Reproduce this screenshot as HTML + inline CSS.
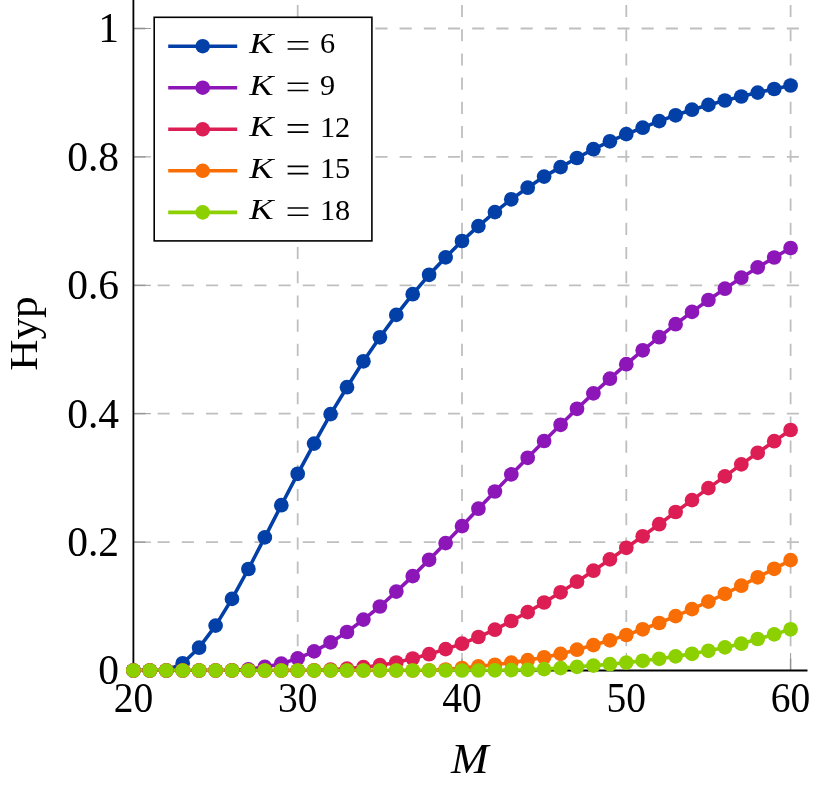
<!DOCTYPE html>
<html><head><meta charset="utf-8"><title>Hyp vs M</title>
<style>
html,body{margin:0;padding:0;background:#fff;}
body{width:829px;height:791px;overflow:hidden;}
svg{display:block;will-change:transform;}
text{font-family:"Liberation Serif",serif;fill:#000;}
.t{font-size:41.5px;}
.l{font-size:29px;}
.i{font-style:italic;}
</style></head><body>
<svg width="829" height="791" viewBox="0 0 829 791">
<rect width="829" height="791" fill="#fff"/>

<g stroke="#bfbfbf" stroke-width="1.8" stroke-dasharray="12.1 12.1" fill="none">
<path d="M297.70 670.50V-10"/>
<path d="M462.00 670.50V-10"/>
<path d="M626.30 670.50V-10"/>
<path d="M790.60 670.50V-10"/>
<path d="M133.40 542.10H807.50"/>
<path d="M133.40 413.70H807.50"/>
<path d="M133.40 285.30H807.50"/>
<path d="M133.40 156.90H807.50"/>
<path d="M133.40 28.50H807.50"/>
</g>
<g stroke="#808080" stroke-width="0.8" fill="none">
<path d="M133.40 670.50v-17.5"/>
<path d="M297.70 670.50v-17.5"/>
<path d="M462.00 670.50v-17.5"/>
<path d="M626.30 670.50v-17.5"/>
<path d="M790.60 670.50v-17.5"/>
<path d="M133.40 670.50h17.5"/>
<path d="M133.40 542.10h17.5"/>
<path d="M133.40 413.70h17.5"/>
<path d="M133.40 285.30h17.5"/>
<path d="M133.40 156.90h17.5"/>
<path d="M133.40 28.50h17.5"/>
</g>
<g stroke="#000" stroke-width="1.8" fill="none"><path d="M133.40 -10V671.40"/><path d="M132.50 670.50H807.50"/></g>
<defs><clipPath id="c"><rect x="0" y="-20" width="829" height="691.40"/></clipPath></defs>
<g clip-path="url(#c)" fill="none" stroke-width="3.6" stroke-linejoin="round">
<polyline stroke="#0240A8" points="133.4,670.5 149.8,670.5 166.3,670.5 182.7,663.3 199.1,647.7 215.6,625.6 232.0,598.9 248.4,569.0 264.8,537.4 281.3,505.2 297.7,473.8 314.1,443.6 330.6,414.1 347.0,387.2 363.4,361.3 379.9,337.3 396.3,314.9 412.7,294.2 429.1,274.8 445.6,257.4 462.0,241.0 478.4,226.1 494.9,212.1 511.3,199.3 527.7,187.7 544.1,176.6 560.6,167.1 577.0,158.0 593.4,149.2 609.9,141.3 626.3,134.1 642.7,127.7 659.2,121.1 675.6,115.3 692.0,109.7 708.4,104.9 724.9,100.5 741.3,96.5 757.7,92.6 774.2,89.0 790.6,85.5"/>
<polyline stroke="#8C16B8" points="133.4,670.5 149.8,670.5 166.3,670.5 182.7,670.5 199.1,670.5 215.6,670.5 232.0,670.3 248.4,669.4 264.8,666.9 281.3,663.7 297.7,658.4 314.1,651.4 330.6,642.4 347.0,632.0 363.4,619.6 379.9,606.5 396.3,591.6 412.7,576.1 429.1,559.8 445.6,543.1 462.0,526.1 478.4,508.7 494.9,491.5 511.3,474.4 527.7,457.8 544.1,441.0 560.6,424.8 577.0,408.8 593.4,393.4 609.9,378.7 626.3,364.2 642.7,350.3 659.2,337.2 675.6,324.2 692.0,311.9 708.4,300.0 724.9,288.7 741.3,277.7 757.7,267.4 774.2,257.5 790.6,248.0"/>
<polyline stroke="#DC1E55" points="133.4,670.5 149.8,670.5 166.3,670.5 182.7,670.5 199.1,670.5 215.6,670.5 232.0,670.5 248.4,670.5 264.8,670.5 281.3,670.5 297.7,670.5 314.1,670.3 330.6,669.7 347.0,668.6 363.4,667.2 379.9,665.2 396.3,662.5 412.7,658.5 429.1,654.2 445.6,649.1 462.0,643.7 478.4,637.0 494.9,629.7 511.3,621.0 527.7,612.1 544.1,602.5 560.6,592.3 577.0,581.7 593.4,570.7 609.9,559.4 626.3,547.8 642.7,536.3 659.2,524.2 675.6,512.0 692.0,500.1 708.4,488.1 724.9,476.4 741.3,464.4 757.7,452.8 774.2,441.2 790.6,430.0"/>
<polyline stroke="#F96E04" points="133.4,670.5 149.8,670.5 166.3,670.5 182.7,670.5 199.1,670.5 215.6,670.5 232.0,670.5 248.4,670.5 264.8,670.5 281.3,670.5 297.7,670.5 314.1,670.5 330.6,670.5 347.0,670.5 363.4,670.5 379.9,670.5 396.3,670.5 412.7,670.5 429.1,670.3 445.6,669.5 462.0,668.0 478.4,666.4 494.9,664.8 511.3,662.6 527.7,660.2 544.1,657.3 560.6,653.9 577.0,649.7 593.4,645.1 609.9,640.4 626.3,635.0 642.7,629.3 659.2,623.0 675.6,616.1 692.0,609.1 708.4,601.6 724.9,593.8 741.3,585.7 757.7,577.3 774.2,568.8 790.6,560.1"/>
<polyline stroke="#8CD000" points="133.4,670.5 149.8,670.5 166.3,670.5 182.7,670.5 199.1,670.5 215.6,670.5 232.0,670.5 248.4,670.5 264.8,670.5 281.3,670.5 297.7,670.5 314.1,670.5 330.6,670.5 347.0,670.5 363.4,670.5 379.9,670.5 396.3,670.5 412.7,670.5 429.1,670.5 445.6,670.5 462.0,670.5 478.4,670.5 494.9,670.3 511.3,670.1 527.7,669.8 544.1,669.1 560.6,668.1 577.0,666.9 593.4,665.6 609.9,664.2 626.3,662.6 642.7,660.8 659.2,658.8 675.6,656.4 692.0,653.8 708.4,650.8 724.9,647.4 741.3,643.7 757.7,639.0 774.2,634.4 790.6,629.3"/>
</g>
<g fill="#0240A8" stroke="none">
<circle cx="133.4" cy="670.5" r="7.35"/>
<circle cx="149.8" cy="670.5" r="7.35"/>
<circle cx="166.3" cy="670.5" r="7.35"/>
<circle cx="182.7" cy="663.3" r="7.35"/>
<circle cx="199.1" cy="647.7" r="7.35"/>
<circle cx="215.6" cy="625.6" r="7.35"/>
<circle cx="232.0" cy="598.9" r="7.35"/>
<circle cx="248.4" cy="569.0" r="7.35"/>
<circle cx="264.8" cy="537.4" r="7.35"/>
<circle cx="281.3" cy="505.2" r="7.35"/>
<circle cx="297.7" cy="473.8" r="7.35"/>
<circle cx="314.1" cy="443.6" r="7.35"/>
<circle cx="330.6" cy="414.1" r="7.35"/>
<circle cx="347.0" cy="387.2" r="7.35"/>
<circle cx="363.4" cy="361.3" r="7.35"/>
<circle cx="379.9" cy="337.3" r="7.35"/>
<circle cx="396.3" cy="314.9" r="7.35"/>
<circle cx="412.7" cy="294.2" r="7.35"/>
<circle cx="429.1" cy="274.8" r="7.35"/>
<circle cx="445.6" cy="257.4" r="7.35"/>
<circle cx="462.0" cy="241.0" r="7.35"/>
<circle cx="478.4" cy="226.1" r="7.35"/>
<circle cx="494.9" cy="212.1" r="7.35"/>
<circle cx="511.3" cy="199.3" r="7.35"/>
<circle cx="527.7" cy="187.7" r="7.35"/>
<circle cx="544.1" cy="176.6" r="7.35"/>
<circle cx="560.6" cy="167.1" r="7.35"/>
<circle cx="577.0" cy="158.0" r="7.35"/>
<circle cx="593.4" cy="149.2" r="7.35"/>
<circle cx="609.9" cy="141.3" r="7.35"/>
<circle cx="626.3" cy="134.1" r="7.35"/>
<circle cx="642.7" cy="127.7" r="7.35"/>
<circle cx="659.2" cy="121.1" r="7.35"/>
<circle cx="675.6" cy="115.3" r="7.35"/>
<circle cx="692.0" cy="109.7" r="7.35"/>
<circle cx="708.4" cy="104.9" r="7.35"/>
<circle cx="724.9" cy="100.5" r="7.35"/>
<circle cx="741.3" cy="96.5" r="7.35"/>
<circle cx="757.7" cy="92.6" r="7.35"/>
<circle cx="774.2" cy="89.0" r="7.35"/>
<circle cx="790.6" cy="85.5" r="7.35"/>
</g>
<g fill="#8C16B8" stroke="none">
<circle cx="133.4" cy="670.5" r="7.35"/>
<circle cx="149.8" cy="670.5" r="7.35"/>
<circle cx="166.3" cy="670.5" r="7.35"/>
<circle cx="182.7" cy="670.5" r="7.35"/>
<circle cx="199.1" cy="670.5" r="7.35"/>
<circle cx="215.6" cy="670.5" r="7.35"/>
<circle cx="232.0" cy="670.3" r="7.35"/>
<circle cx="248.4" cy="669.4" r="7.35"/>
<circle cx="264.8" cy="666.9" r="7.35"/>
<circle cx="281.3" cy="663.7" r="7.35"/>
<circle cx="297.7" cy="658.4" r="7.35"/>
<circle cx="314.1" cy="651.4" r="7.35"/>
<circle cx="330.6" cy="642.4" r="7.35"/>
<circle cx="347.0" cy="632.0" r="7.35"/>
<circle cx="363.4" cy="619.6" r="7.35"/>
<circle cx="379.9" cy="606.5" r="7.35"/>
<circle cx="396.3" cy="591.6" r="7.35"/>
<circle cx="412.7" cy="576.1" r="7.35"/>
<circle cx="429.1" cy="559.8" r="7.35"/>
<circle cx="445.6" cy="543.1" r="7.35"/>
<circle cx="462.0" cy="526.1" r="7.35"/>
<circle cx="478.4" cy="508.7" r="7.35"/>
<circle cx="494.9" cy="491.5" r="7.35"/>
<circle cx="511.3" cy="474.4" r="7.35"/>
<circle cx="527.7" cy="457.8" r="7.35"/>
<circle cx="544.1" cy="441.0" r="7.35"/>
<circle cx="560.6" cy="424.8" r="7.35"/>
<circle cx="577.0" cy="408.8" r="7.35"/>
<circle cx="593.4" cy="393.4" r="7.35"/>
<circle cx="609.9" cy="378.7" r="7.35"/>
<circle cx="626.3" cy="364.2" r="7.35"/>
<circle cx="642.7" cy="350.3" r="7.35"/>
<circle cx="659.2" cy="337.2" r="7.35"/>
<circle cx="675.6" cy="324.2" r="7.35"/>
<circle cx="692.0" cy="311.9" r="7.35"/>
<circle cx="708.4" cy="300.0" r="7.35"/>
<circle cx="724.9" cy="288.7" r="7.35"/>
<circle cx="741.3" cy="277.7" r="7.35"/>
<circle cx="757.7" cy="267.4" r="7.35"/>
<circle cx="774.2" cy="257.5" r="7.35"/>
<circle cx="790.6" cy="248.0" r="7.35"/>
</g>
<g fill="#DC1E55" stroke="none">
<circle cx="133.4" cy="670.5" r="7.35"/>
<circle cx="149.8" cy="670.5" r="7.35"/>
<circle cx="166.3" cy="670.5" r="7.35"/>
<circle cx="182.7" cy="670.5" r="7.35"/>
<circle cx="199.1" cy="670.5" r="7.35"/>
<circle cx="215.6" cy="670.5" r="7.35"/>
<circle cx="232.0" cy="670.5" r="7.35"/>
<circle cx="248.4" cy="670.5" r="7.35"/>
<circle cx="264.8" cy="670.5" r="7.35"/>
<circle cx="281.3" cy="670.5" r="7.35"/>
<circle cx="297.7" cy="670.5" r="7.35"/>
<circle cx="314.1" cy="670.3" r="7.35"/>
<circle cx="330.6" cy="669.7" r="7.35"/>
<circle cx="347.0" cy="668.6" r="7.35"/>
<circle cx="363.4" cy="667.2" r="7.35"/>
<circle cx="379.9" cy="665.2" r="7.35"/>
<circle cx="396.3" cy="662.5" r="7.35"/>
<circle cx="412.7" cy="658.5" r="7.35"/>
<circle cx="429.1" cy="654.2" r="7.35"/>
<circle cx="445.6" cy="649.1" r="7.35"/>
<circle cx="462.0" cy="643.7" r="7.35"/>
<circle cx="478.4" cy="637.0" r="7.35"/>
<circle cx="494.9" cy="629.7" r="7.35"/>
<circle cx="511.3" cy="621.0" r="7.35"/>
<circle cx="527.7" cy="612.1" r="7.35"/>
<circle cx="544.1" cy="602.5" r="7.35"/>
<circle cx="560.6" cy="592.3" r="7.35"/>
<circle cx="577.0" cy="581.7" r="7.35"/>
<circle cx="593.4" cy="570.7" r="7.35"/>
<circle cx="609.9" cy="559.4" r="7.35"/>
<circle cx="626.3" cy="547.8" r="7.35"/>
<circle cx="642.7" cy="536.3" r="7.35"/>
<circle cx="659.2" cy="524.2" r="7.35"/>
<circle cx="675.6" cy="512.0" r="7.35"/>
<circle cx="692.0" cy="500.1" r="7.35"/>
<circle cx="708.4" cy="488.1" r="7.35"/>
<circle cx="724.9" cy="476.4" r="7.35"/>
<circle cx="741.3" cy="464.4" r="7.35"/>
<circle cx="757.7" cy="452.8" r="7.35"/>
<circle cx="774.2" cy="441.2" r="7.35"/>
<circle cx="790.6" cy="430.0" r="7.35"/>
</g>
<g fill="#F96E04" stroke="none">
<circle cx="133.4" cy="670.5" r="7.35"/>
<circle cx="149.8" cy="670.5" r="7.35"/>
<circle cx="166.3" cy="670.5" r="7.35"/>
<circle cx="182.7" cy="670.5" r="7.35"/>
<circle cx="199.1" cy="670.5" r="7.35"/>
<circle cx="215.6" cy="670.5" r="7.35"/>
<circle cx="232.0" cy="670.5" r="7.35"/>
<circle cx="248.4" cy="670.5" r="7.35"/>
<circle cx="264.8" cy="670.5" r="7.35"/>
<circle cx="281.3" cy="670.5" r="7.35"/>
<circle cx="297.7" cy="670.5" r="7.35"/>
<circle cx="314.1" cy="670.5" r="7.35"/>
<circle cx="330.6" cy="670.5" r="7.35"/>
<circle cx="347.0" cy="670.5" r="7.35"/>
<circle cx="363.4" cy="670.5" r="7.35"/>
<circle cx="379.9" cy="670.5" r="7.35"/>
<circle cx="396.3" cy="670.5" r="7.35"/>
<circle cx="412.7" cy="670.5" r="7.35"/>
<circle cx="429.1" cy="670.3" r="7.35"/>
<circle cx="445.6" cy="669.5" r="7.35"/>
<circle cx="462.0" cy="668.0" r="7.35"/>
<circle cx="478.4" cy="666.4" r="7.35"/>
<circle cx="494.9" cy="664.8" r="7.35"/>
<circle cx="511.3" cy="662.6" r="7.35"/>
<circle cx="527.7" cy="660.2" r="7.35"/>
<circle cx="544.1" cy="657.3" r="7.35"/>
<circle cx="560.6" cy="653.9" r="7.35"/>
<circle cx="577.0" cy="649.7" r="7.35"/>
<circle cx="593.4" cy="645.1" r="7.35"/>
<circle cx="609.9" cy="640.4" r="7.35"/>
<circle cx="626.3" cy="635.0" r="7.35"/>
<circle cx="642.7" cy="629.3" r="7.35"/>
<circle cx="659.2" cy="623.0" r="7.35"/>
<circle cx="675.6" cy="616.1" r="7.35"/>
<circle cx="692.0" cy="609.1" r="7.35"/>
<circle cx="708.4" cy="601.6" r="7.35"/>
<circle cx="724.9" cy="593.8" r="7.35"/>
<circle cx="741.3" cy="585.7" r="7.35"/>
<circle cx="757.7" cy="577.3" r="7.35"/>
<circle cx="774.2" cy="568.8" r="7.35"/>
<circle cx="790.6" cy="560.1" r="7.35"/>
</g>
<g fill="#8CD000" stroke="none">
<circle cx="133.4" cy="670.5" r="7.35"/>
<circle cx="149.8" cy="670.5" r="7.35"/>
<circle cx="166.3" cy="670.5" r="7.35"/>
<circle cx="182.7" cy="670.5" r="7.35"/>
<circle cx="199.1" cy="670.5" r="7.35"/>
<circle cx="215.6" cy="670.5" r="7.35"/>
<circle cx="232.0" cy="670.5" r="7.35"/>
<circle cx="248.4" cy="670.5" r="7.35"/>
<circle cx="264.8" cy="670.5" r="7.35"/>
<circle cx="281.3" cy="670.5" r="7.35"/>
<circle cx="297.7" cy="670.5" r="7.35"/>
<circle cx="314.1" cy="670.5" r="7.35"/>
<circle cx="330.6" cy="670.5" r="7.35"/>
<circle cx="347.0" cy="670.5" r="7.35"/>
<circle cx="363.4" cy="670.5" r="7.35"/>
<circle cx="379.9" cy="670.5" r="7.35"/>
<circle cx="396.3" cy="670.5" r="7.35"/>
<circle cx="412.7" cy="670.5" r="7.35"/>
<circle cx="429.1" cy="670.5" r="7.35"/>
<circle cx="445.6" cy="670.5" r="7.35"/>
<circle cx="462.0" cy="670.5" r="7.35"/>
<circle cx="478.4" cy="670.5" r="7.35"/>
<circle cx="494.9" cy="670.3" r="7.35"/>
<circle cx="511.3" cy="670.1" r="7.35"/>
<circle cx="527.7" cy="669.8" r="7.35"/>
<circle cx="544.1" cy="669.1" r="7.35"/>
<circle cx="560.6" cy="668.1" r="7.35"/>
<circle cx="577.0" cy="666.9" r="7.35"/>
<circle cx="593.4" cy="665.6" r="7.35"/>
<circle cx="609.9" cy="664.2" r="7.35"/>
<circle cx="626.3" cy="662.6" r="7.35"/>
<circle cx="642.7" cy="660.8" r="7.35"/>
<circle cx="659.2" cy="658.8" r="7.35"/>
<circle cx="675.6" cy="656.4" r="7.35"/>
<circle cx="692.0" cy="653.8" r="7.35"/>
<circle cx="708.4" cy="650.8" r="7.35"/>
<circle cx="724.9" cy="647.4" r="7.35"/>
<circle cx="741.3" cy="643.7" r="7.35"/>
<circle cx="757.7" cy="639.0" r="7.35"/>
<circle cx="774.2" cy="634.4" r="7.35"/>
<circle cx="790.6" cy="629.3" r="7.35"/>
</g>
<g class="t" text-anchor="middle">
<text x="133.4" y="711.5" textLength="39.5" lengthAdjust="spacingAndGlyphs">20</text>
<text x="297.7" y="711.5" textLength="39.5" lengthAdjust="spacingAndGlyphs">30</text>
<text x="462.0" y="711.5" textLength="39.5" lengthAdjust="spacingAndGlyphs">40</text>
<text x="626.3" y="711.5" textLength="39.5" lengthAdjust="spacingAndGlyphs">50</text>
<text x="790.6" y="711.5" textLength="39.5" lengthAdjust="spacingAndGlyphs">60</text>
</g>
<g class="t" text-anchor="end">
<text x="119" y="684.4">0</text>
<text x="119" y="556.0">0.2</text>
<text x="119" y="427.6">0.4</text>
<text x="119" y="299.2">0.6</text>
<text x="119" y="170.8">0.8</text>
<text x="119" y="42.4">1</text>
</g>
<text class="t i" x="469.9" y="773" text-anchor="middle" textLength="37.6" lengthAdjust="spacingAndGlyphs">M</text>
<text class="t" style="font-size:41px" transform="translate(36.9 333.6) rotate(-90)" text-anchor="middle" textLength="74.3" lengthAdjust="spacingAndGlyphs">Hyp</text>
<rect x="154.2" y="17.3" width="217.7" height="223.6" fill="#fff" stroke="#000" stroke-width="1.6"/>
<path d="M168.2 46.2H237.2" stroke="#0240A8" stroke-width="3.6" fill="none"/><circle cx="202.7" cy="46.2" r="7.3" fill="#0240A8"/>
<text class="l i" x="249.2" y="53.2" textLength="24.3" lengthAdjust="spacingAndGlyphs">K</text>
<path d="M287.6 41.75H308.4M287.6 49.00H308.4" stroke="#000" stroke-width="1.55" fill="none"/>
<text class="l" style="font-size:30.3px" x="319.9" y="53.4">6</text>
<path d="M168.2 87.7H237.2" stroke="#8C16B8" stroke-width="3.6" fill="none"/><circle cx="202.7" cy="87.7" r="7.3" fill="#8C16B8"/>
<text class="l i" x="249.2" y="94.7" textLength="24.3" lengthAdjust="spacingAndGlyphs">K</text>
<path d="M287.6 83.25H308.4M287.6 90.50H308.4" stroke="#000" stroke-width="1.55" fill="none"/>
<text class="l" style="font-size:30.3px" x="319.9" y="94.9">9</text>
<path d="M168.2 129.3H237.2" stroke="#DC1E55" stroke-width="3.6" fill="none"/><circle cx="202.7" cy="129.3" r="7.3" fill="#DC1E55"/>
<text class="l i" x="249.2" y="136.3" textLength="24.3" lengthAdjust="spacingAndGlyphs">K</text>
<path d="M287.6 124.85H308.4M287.6 132.10H308.4" stroke="#000" stroke-width="1.55" fill="none"/>
<text class="l" style="font-size:30.3px" x="319.9" y="136.5">12</text>
<path d="M168.2 170.8H237.2" stroke="#F96E04" stroke-width="3.6" fill="none"/><circle cx="202.7" cy="170.8" r="7.3" fill="#F96E04"/>
<text class="l i" x="249.2" y="177.8" textLength="24.3" lengthAdjust="spacingAndGlyphs">K</text>
<path d="M287.6 166.35H308.4M287.6 173.60H308.4" stroke="#000" stroke-width="1.55" fill="none"/>
<text class="l" style="font-size:30.3px" x="319.9" y="178.0">15</text>
<path d="M168.2 212.4H237.2" stroke="#8CD000" stroke-width="3.6" fill="none"/><circle cx="202.7" cy="212.4" r="7.3" fill="#8CD000"/>
<text class="l i" x="249.2" y="219.4" textLength="24.3" lengthAdjust="spacingAndGlyphs">K</text>
<path d="M287.6 207.95H308.4M287.6 215.20H308.4" stroke="#000" stroke-width="1.55" fill="none"/>
<text class="l" style="font-size:30.3px" x="319.9" y="219.6">18</text>
</svg></body></html>
